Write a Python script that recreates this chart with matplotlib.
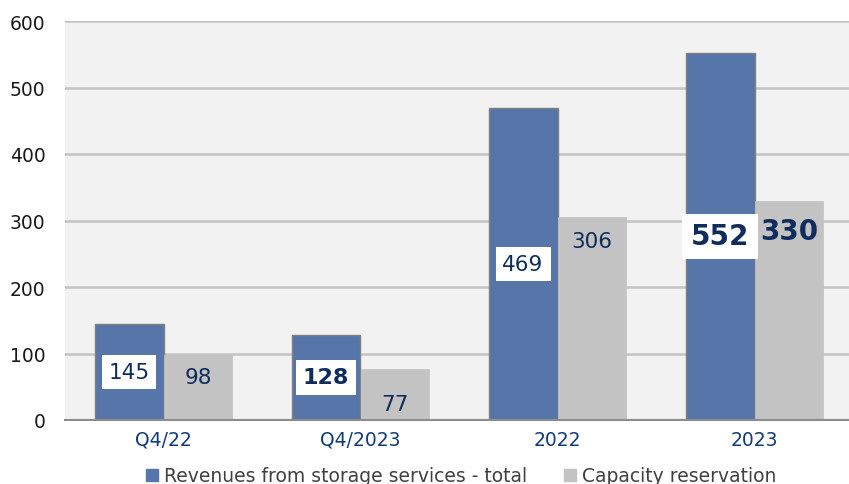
import matplotlib.pyplot as plt
from matplotlib.patches import Patch
import numpy as np

# data
categories = ["Q4/22", "Q4/2023", "2022", "2023"]
revenues_total = [145, 128, 469, 552]
capacity_reservation = [98, 77, 306, 330]

# where labels sit inside each bar (fraction of bar height)
total_label_frac = [0.5, 0.5, 0.5, 0.5]
capacity_label_frac = [0.66, 0.31, 0.88, 0.86]
total_label_style = [(15.5, "normal"), (16, "bold"), (15.5, "normal"), (20, "bold")]
capacity_label_style = [(15.5, "normal"), (15.5, "normal"), (15.5, "normal"), (20, "bold")]

BLUE = "#5676A9"
GREY = "#C3C3C3"
NAVY = "#0F2C5C"

fig = plt.figure(figsize=(8.49, 4.85), dpi=100)
ax = fig.add_axes([65 / 849, 64 / 485, 788 / 849, 399 / 485])
ax.set_facecolor("#F2F2F2")

x = np.arange(len(categories))
w = 0.35
b1 = ax.bar(x - w / 2, revenues_total, w, color=BLUE, edgecolor="#808080", linewidth=1, zorder=3)
b2 = ax.bar(x + w / 2, capacity_reservation, w, color=GREY, edgecolor=GREY, linewidth=0.5, zorder=3)

for i in range(len(categories)):
    fs, fw = total_label_style[i]
    ax.text(x[i] - w / 2, revenues_total[i] * total_label_frac[i], str(revenues_total[i]),
            ha="center", va="center", fontsize=fs, fontweight=fw, color=NAVY, zorder=5,
            bbox=dict(boxstyle="square,pad=0.32", fc="white", ec="none"))
    fs, fw = capacity_label_style[i]
    ax.text(x[i] + w / 2, capacity_reservation[i] * capacity_label_frac[i], str(capacity_reservation[i]),
            ha="center", va="center", fontsize=fs, fontweight=fw, color=NAVY, zorder=5)

ax.set_xlim(-0.5, len(categories) - 0.5)
ax.set_ylim(0, 600)
ax.set_yticks(range(0, 601, 100))
ax.yaxis.grid(True, color="#C4C4C4", linewidth=1.8, zorder=0)
ax.set_axisbelow(True)
for s in ["top", "right", "left"]:
    ax.spines[s].set_visible(False)
ax.spines["bottom"].set_color("#8C8C8C")
ax.spines["bottom"].set_linewidth(1.5)
ax.spines["bottom"].set_zorder(4)

ax.set_xticks(x)
ax.set_xticklabels(categories, fontsize=13.5, color="#123B7A")
ax.tick_params(axis="x", length=0, pad=7)
ax.tick_params(axis="y", length=0, pad=14, labelsize=13.5, labelcolor="#1A1A1A")

handles = [Patch(color=BLUE), Patch(color=GREY)]
fig.legend(handles, ["Revenues from storage services - total", "Capacity reservation"],
           loc="center", bbox_to_anchor=(461 / 849, 1 - 477 / 485), ncol=2, frameon=False,
           fontsize=13.5, labelcolor="#404040", handlelength=0.65, handleheight=0.65,
           handletextpad=0.3, columnspacing=2.0)

fig.savefig("out.png", dpi=100)
